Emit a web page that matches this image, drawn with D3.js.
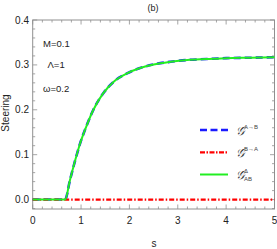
<!DOCTYPE html>
<html><head><meta charset="utf-8">
<script src="https://cdn.jsdelivr.net/npm/d3@7"></script>
<style>body{margin:0;background:#fff}svg{display:block}text{font-family:"Liberation Sans",Arial,sans-serif}</style>
</head><body><svg id="c" width="277" height="249"></svg>
<script>
const sValues = [0, 0.67, 0.77, 0.88, 0.98, 1.12, 1.25, 1.46, 1.67, 1.95, 2.22, 2.5, 2.85, 3.2, 3.6, 4.0, 4.5, 5.0];
const steerAB = [0, 0, 0.043, 0.088, 0.125, 0.166, 0.199, 0.237, 0.262, 0.281, 0.293, 0.301, 0.307, 0.311, 0.313, 0.315, 0.316, 0.317];
const steerBA = [0, 0, 0, 0, 0, 0, 0, 0, 0, 0, 0, 0, 0, 0, 0, 0, 0, 0];
const steerHat = [0, 0, 0.043, 0.088, 0.125, 0.166, 0.199, 0.237, 0.262, 0.281, 0.293, 0.301, 0.307, 0.311, 0.313, 0.315, 0.316, 0.317];
const xTicks = [0, 1, 2, 3, 4, 5];
const yTicks = [0.0, 0.1, 0.2, 0.3, 0.4];
const annotations = ["M=0.1", "Λ=1", "ω=0.2"];

const svg = d3.select("#c");
const L = 32.7, R = 274.5, T = 20, B = 209;
const x = d3.scaleLinear().domain([0, 5]).range([L, R]);
const y = d3.scaleLinear().domain([-0.021, 0.4]).range([B, T]);
const frameCol = "#8f8f8f";

svg.append("rect").attr("x", L).attr("y", T).attr("width", R - L).attr("height", B - T)
  .attr("fill", "none").attr("stroke", frameCol).attr("stroke-width", 1);

const xMinor = d3.range(0, 5.0001, 0.2);
const yMinor = d3.range(-0.02, 0.4001, 0.02);
const tk = svg.append("g").attr("stroke", frameCol).attr("stroke-width", 0.8);
xMinor.forEach(v => {
  const major = xTicks.some(t => Math.abs(t - v) < 1e-6);
  const len = major ? 4.5 : 2.5;
  tk.append("line").attr("x1", x(v)).attr("x2", x(v)).attr("y1", B).attr("y2", B - len);
  tk.append("line").attr("x1", x(v)).attr("x2", x(v)).attr("y1", T).attr("y2", T + len);
});
yMinor.forEach(v => {
  const major = yTicks.some(t => Math.abs(t - v) < 1e-6);
  const len = major ? 4.5 : 2.5;
  tk.append("line").attr("y1", y(v)).attr("y2", y(v)).attr("x1", L).attr("x2", L + len);
  tk.append("line").attr("y1", y(v)).attr("y2", y(v)).attr("x1", R).attr("x2", R - len);
});

svg.append("g").selectAll("text").data(xTicks).join("text")
  .attr("x", d => x(d)).attr("y", 224).attr("text-anchor", "middle")
  .attr("font-size", 10).attr("fill", "#222").text(d => d);
svg.append("g").selectAll("text").data(yTicks).join("text")
  .attr("x", 29).attr("y", d => y(d) + 3.6).attr("text-anchor", "end")
  .attr("font-size", 10).attr("fill", "#222").text(d => d.toFixed(1));

svg.append("text").attr("x", 154).attr("y", 247).attr("text-anchor", "middle")
  .attr("font-size", 10).attr("fill", "#222").text("s");
svg.append("text").attr("transform", "translate(8.5,113) rotate(-90)").attr("text-anchor", "middle")
  .attr("font-size", 10).attr("fill", "#222").text("Steering");
svg.append("text").attr("x", 153).attr("y", 11).attr("text-anchor", "middle")
  .attr("font-size", 9).attr("fill", "#222").text("(b)");

const annPos = [[43, 47], [47.5, 68], [43, 92]];
annotations.forEach((a, i) => {
  svg.append("text").attr("x", annPos[i][0]).attr("y", annPos[i][1])
    .attr("font-size", 9.5).attr("fill", "#222").text(a);
});

const line = vals => d3.line().x((d, i) => x(sValues[i])).y(d => y(d)).curve(d3.curveMonotoneX)(vals);
svg.append("path").attr("d", line(steerAB)).attr("fill", "none").attr("stroke", "#1a1aff")
  .attr("stroke-width", 2.6).attr("stroke-dasharray", "7,4");
svg.append("path").attr("d", line(steerBA)).attr("fill", "none").attr("stroke", "#ff0000")
  .attr("stroke-width", 2.2).attr("stroke-dasharray", "5,2,1.5,2");
svg.append("path").attr("d", line(steerHat)).attr("fill", "none").attr("stroke", "#22ee22")
  .attr("stroke-width", 2);

const lg = svg.append("g");
const legY = [130, 152.3, 174.5];
lg.append("line").attr("x1", 200).attr("x2", 228).attr("y1", legY[0]).attr("y2", legY[0])
  .attr("stroke", "#1a1aff").attr("stroke-width", 2.6).attr("stroke-dasharray", "7,3.5");
lg.append("line").attr("x1", 200).attr("x2", 228).attr("y1", legY[1]).attr("y2", legY[1])
  .attr("stroke", "#ff0000").attr("stroke-width", 2.2).attr("stroke-dasharray", "5,1.5,1.5,1.5");
lg.append("line").attr("x1", 200).attr("x2", 228).attr("y1", legY[2]).attr("y2", legY[2])
  .attr("stroke", "#22ee22").attr("stroke-width", 2);
const supLabels = ["A→B", "B→A", "Δ"];
const subLabels = [null, null, "AB"];
supLabels.forEach((s, i) => {
  lg.append("text").attr("x", 235.5).attr("y", legY[i] + 4.5).attr("font-size", 12)
    .attr("font-style", "italic").attr("font-family", "DejaVu Serif").attr("fill", "#333").text("𝒢");
  lg.append("text").attr("x", 244).attr("y", legY[i] - 1.5).attr("font-size", 6)
    .attr("fill", "#444").text(s);
  if (subLabels[i]) lg.append("text").attr("x", 244).attr("y", legY[i] + 6.5).attr("font-size", 6)
    .attr("fill", "#444").text(subLabels[i]);
});
</script></body></html>
